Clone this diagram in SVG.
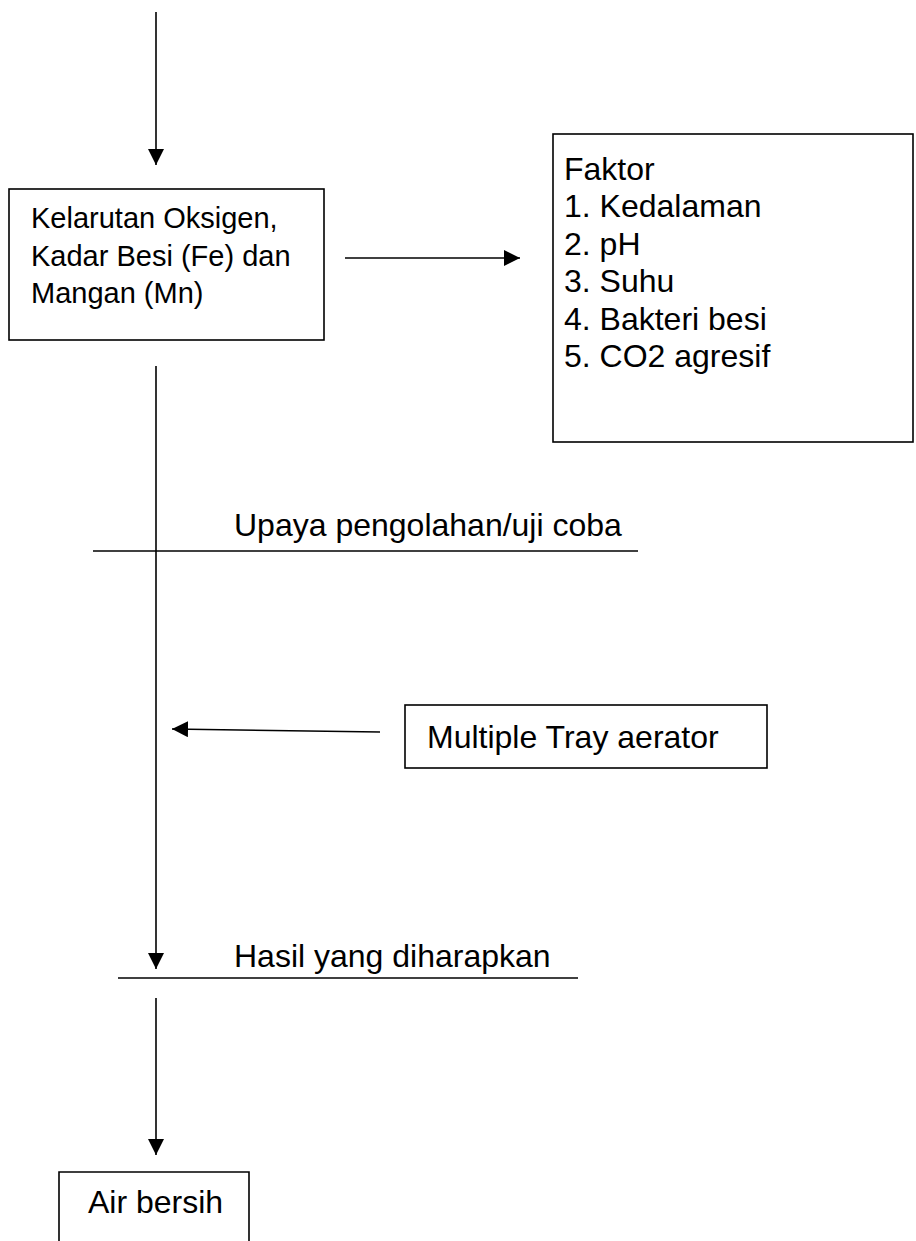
<svg xmlns="http://www.w3.org/2000/svg" width="916" height="1241" viewBox="0 0 916 1241">
<style>
.box{fill:#fff;stroke:#000;stroke-width:1.6}
.ln{stroke:#000;stroke-width:1.6;fill:none}
.t{font-family:"Liberation Sans",Arial,sans-serif;font-size:32px;fill:#000}
.ts{font-family:"Liberation Sans",Arial,sans-serif;font-size:29px;fill:#000}
</style>
<defs>
<marker id="ah" markerUnits="userSpaceOnUse" markerWidth="16" markerHeight="16" viewBox="0 0 16 16" refX="16" refY="8" orient="auto">
<path d="M0,0 L16,8 L0,16 Z" fill="#000"/>
</marker>
</defs>
<rect width="916" height="1241" fill="#fff"/>
<g id="connectors">
<line class="ln" x1="156" y1="12" x2="156" y2="165" marker-end="url(#ah)"/>
<line class="ln" x1="345" y1="258" x2="520" y2="258" marker-end="url(#ah)"/>
<line class="ln" x1="156" y1="366" x2="156" y2="969" marker-end="url(#ah)"/>
<line class="ln" x1="380" y1="732" x2="172" y2="729" marker-end="url(#ah)"/>
<line class="ln" x1="156" y1="998" x2="156" y2="1155" marker-end="url(#ah)"/>
</g>
<g id="kelarutan">
<rect class="box" x="9" y="189" width="315" height="151"/>
<text class="ts" x="31" y="228">Kelarutan Oksigen,</text>
<text class="ts" x="31" y="266">Kadar Besi (Fe) dan</text>
<text class="ts" x="31" y="303">Mangan (Mn)</text>
</g>
<g id="faktor">
<rect class="box" x="553" y="134" width="360" height="308"/>
<text class="t" x="564" y="180">Faktor</text>
<text class="t" x="564" y="217">1. Kedalaman</text>
<text class="t" x="564" y="255">2. pH</text>
<text class="t" x="564" y="292">3. Suhu</text>
<text class="t" x="564" y="330">4. Bakteri besi</text>
<text class="t" x="564" y="367">5. CO2 agresif</text>
</g>
<g id="upaya">
<line class="ln" x1="93" y1="551" x2="638" y2="551"/>
<text class="t" x="234" y="536">Upaya pengolahan/uji coba</text>
</g>
<g id="tray">
<rect class="box" x="405" y="705" width="362" height="63"/>
<text class="t" x="427" y="748">Multiple Tray aerator</text>
</g>
<g id="hasil">
<line class="ln" x1="118" y1="978" x2="578" y2="978"/>
<text class="t" x="234" y="967">Hasil yang diharapkan</text>
</g>
<g id="air">
<path class="box" d="M59,1241 V1172 H249 V1241" fill="none"/>
<text class="t" x="88" y="1213">Air bersih</text>
</g>
</svg>
